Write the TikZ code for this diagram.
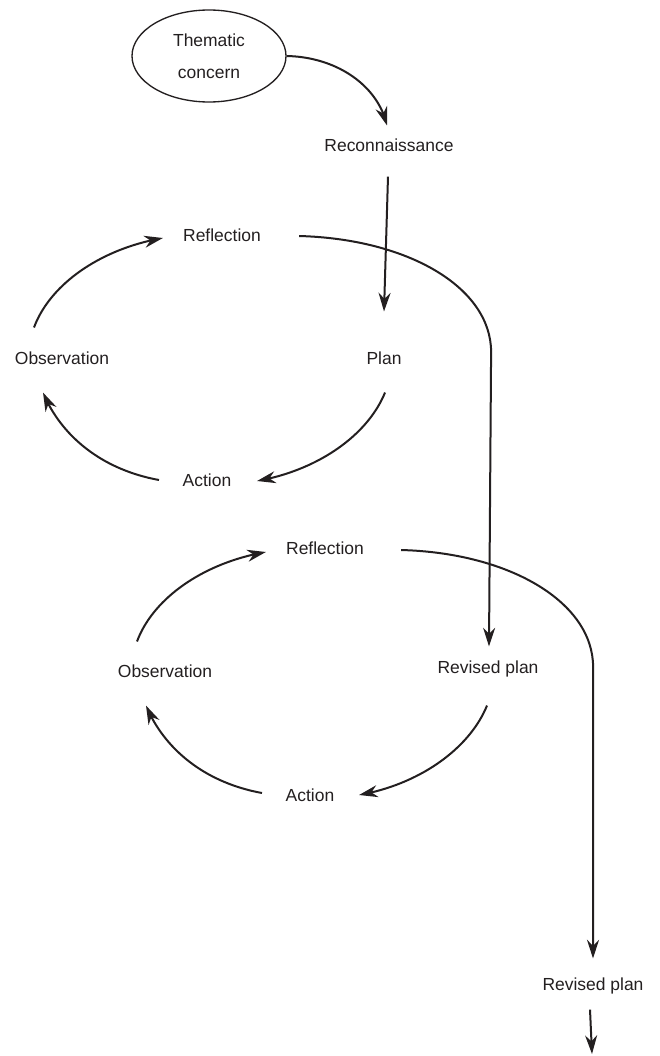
\documentclass[tikz,border=0pt]{standalone}
\usepackage{fontspec}
\setmainfont{Liberation Sans}
\usetikzlibrary{arrows.meta,bending,shapes.geometric}
\definecolor{ink}{HTML}{231F20}
\newcommand{\lblfont}{\fontsize{13.1}{15.7}\selectfont}
\tikzset{
  lbl/.style={inner sep=0pt, text height=9.4pt, text depth=0pt, font=\lblfont, text=ink},
  arr/.style={draw=ink, line width=1.5pt, -{Stealth[length=14pt, width=9pt, inset=4.5pt]}},
  ovalbox/.style={draw=ink, ellipse, line width=1pt, minimum width=115.5pt, minimum height=69pt, inner sep=0pt, align=center, font=\lblfont, text=ink}
}
\begin{document}
\begin{tikzpicture}[x=0.75pt, y=0.75pt]
\useasboundingbox (0,0) rectangle (660,-1056);
% nodes
\node[ovalbox] (them) at (209,-56) {Thematic\\[8pt]concern};
\node[lbl] (recon) at (389,-145) {Reconnaissance};
\node[lbl] (refl1) at (222,-235) {Reflection};
\node[lbl] (plan)  at (384,-358) {Plan};
\node[lbl] (obs1)  at (62,-358)  {Observation};
\node[lbl] (act1)  at (207,-480) {Action};
\node[lbl] (refl2) at (325,-548) {Reflection};
\node[lbl] (rev1)  at (488,-667) {Revised plan};
\node[lbl] (obs2)  at (165,-671) {Observation};
\node[lbl] (act2)  at (310,-795) {Action};
\node[lbl] (rev2)  at (593,-984) {Revised plan};
\coordinate (e) at (592,-1054);
% connectors
\draw[arr] (them.east) .. controls +(50,-1) and +(-9,40) .. ([shift={(-2,13)}]recon.north);
\draw[arr] ([shift={(-1,-25)}]recon.south) -- ([shift={(0,40)}]plan.north);
\draw[arr] ([shift={(38,-1)}]refl1.east) .. controls +(110,-3) and +(0,64) .. ++(192,-116) -- ([shift={(1,14)}]rev1.north);
% cycle 1
\draw[arr] ([shift={(-28,24)}]obs1.north) .. controls +(16,43) and +(-63,-11) .. ([shift={(-20,-3)}]refl1.west);
\draw[arr] ([shift={(1,-28)}]plan.south) .. controls +(-17,-42) and +(62,11) .. ([shift={(25.5,-1)}]act1.east);
\draw[arr] ([shift={(-23.5,0)}]act1.west) .. controls +(-60,11) and +(17,-41) .. ([shift={(-19,-28)}]obs1.south);
% cycle 2
\draw[arr] ([shift={(37,-2)}]refl2.east) .. controls +(110,-3) and +(0,64) .. ++(192,-117) -- ([shift={(0,19)}]rev2.north);
\draw[arr] ([shift={(-28,23)}]obs2.north) .. controls +(16,43) and +(-63,-11) .. ([shift={(-20,-4)}]refl2.west);
\draw[arr] ([shift={(-1,-32)}]rev1.south) .. controls +(-17,-42) and +(62,11) .. ([shift={(24.5,0)}]act2.east);
\draw[arr] ([shift={(-23.5,2)}]act2.west) .. controls +(-60,11) and +(17,-41) .. ([shift={(-19,-28)}]obs2.south);
% final
\draw[arr] ([shift={(-3,-19)}]rev2.south) -- (e);
\end{tikzpicture}
\end{document}
